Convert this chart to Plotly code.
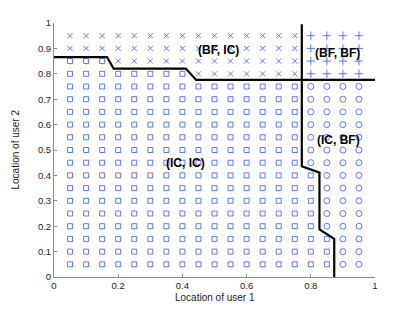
import plotly.graph_objects as go

x_grid = [0.05, 0.10, 0.15, 0.20, 0.25, 0.30, 0.35, 0.40, 0.45, 0.50,
          0.55, 0.60, 0.65, 0.70, 0.75, 0.80, 0.85, 0.90, 0.95]
y_grid = [0.95, 0.90, 0.85, 0.80, 0.75, 0.70, 0.65, 0.60, 0.55, 0.50,
          0.45, 0.40, 0.35, 0.30, 0.25, 0.20, 0.15, 0.10, 0.05]
# X=(BF, IC), P=(BF, BF), S=(IC, IC), O=(IC, BF)
region_rows = [
    "XXXXXXXXXXXXXXXPPPP",
    "XXXXXXXXXXXXXXXPPPP",
    "SSSXXXXXXXXXXXXPPPP",
    "SSSSSSSSXXXXXXXPPPP",
    "SSSSSSSSSSSSSSSOOOO",
    "SSSSSSSSSSSSSSSOOOO",
    "SSSSSSSSSSSSSSSOOOO",
    "SSSSSSSSSSSSSSSOOOO",
    "SSSSSSSSSSSSSSSOOOO",
    "SSSSSSSSSSSSSSSOOOO",
    "SSSSSSSSSSSSSSSOOOO",
    "SSSSSSSSSSSSSSSSOOO",
    "SSSSSSSSSSSSSSSSOOO",
    "SSSSSSSSSSSSSSSSOOO",
    "SSSSSSSSSSSSSSSSOOO",
    "SSSSSSSSSSSSSSSSOOO",
    "SSSSSSSSSSSSSSSSSOO",
    "SSSSSSSSSSSSSSSSSOO",
    "SSSSSSSSSSSSSSSSSOO",
]
boundary1_x = [0.0, 0.165, 0.186, 0.411, 0.443, 1.0]
boundary1_y = [0.866, 0.866, 0.820, 0.820, 0.776, 0.776]
boundary2_x = [0.772, 0.772, 0.827, 0.827, 0.873, 0.873]
boundary2_y = [0.995, 0.436, 0.411, 0.187, 0.150, 0.0]
labels = ["(BF, IC)", "(BF, BF)", "(IC, BF)", "(IC, IC)"]
label_x = [0.511, 0.882, 0.885, 0.410]
label_y = [0.893, 0.882, 0.541, 0.449]

styles = {
    "X": dict(symbol="x-thin-open", size=5),
    "P": dict(symbol="cross-thin-open", size=6),
    "S": dict(symbol="square-open", size=5),
    "O": dict(symbol="circle-open", size=6),
}
blue = "#4a68ff"
font_family = "Liberation Sans, Arial"

fig = go.Figure()
for code, st in styles.items():
    xs, ys = [], []
    for yi, row in zip(y_grid, region_rows):
        for xi, c in zip(x_grid, row):
            if c == code:
                xs.append(xi)
                ys.append(yi)
    fig.add_trace(go.Scatter(x=xs, y=ys, mode="markers",
                             marker=dict(symbol=st["symbol"], size=st["size"],
                                         color=blue, line=dict(color=blue, width=0.9)),
                             showlegend=False, hoverinfo="skip"))

for bx, by in [(boundary1_x, boundary1_y), (boundary2_x, boundary2_y)]:
    fig.add_trace(go.Scatter(x=bx, y=by, mode="lines",
                             line=dict(color="black", width=2.2),
                             showlegend=False, hoverinfo="skip"))

for t, lx, ly in zip(labels, label_x, label_y):
    fig.add_annotation(x=lx, y=ly, text="<b>" + t + "</b>", showarrow=False,
                       font=dict(family=font_family, size=12, color="black"))

fig.add_annotation(x=0.5, y=-0.08, xref="paper", yref="paper", yanchor="middle",
                   text="Location of user 1", showarrow=False,
                   font=dict(family=font_family, size=10, color="#222"))
fig.add_annotation(x=-0.123, y=0.5, xref="paper", yref="paper", xanchor="center",
                   text="Location of user 2", showarrow=False, textangle=-90,
                   font=dict(family=font_family, size=10, color="#222"))

axis_common = dict(showgrid=False, zeroline=False, showline=True, linecolor="#8c8c8c",
                   linewidth=1, ticks="inside", ticklen=3, tickcolor="#8c8c8c",
                   automargin=False,
                   tickfont=dict(family=font_family, size=9.5, color="#222"))

fig.update_layout(
    width=415, height=312,
    margin=dict(l=45.5, r=48, t=14.5, b=43.3),
    plot_bgcolor="white", paper_bgcolor="white",
    xaxis=dict(range=[0, 1], tickvals=[0, 0.2, 0.4, 0.6, 0.8, 1],
               ticktext=["0", "0.2", "0.4", "0.6", "0.8", "1"],
               **axis_common),
    yaxis=dict(range=[0, 1], tickvals=[0, 0.1, 0.2, 0.3, 0.4, 0.5, 0.6, 0.7, 0.8, 0.9, 1],
               ticktext=["0", "0.1", "0.2", "0.3", "0.4", "0.5", "0.6", "0.7", "0.8", "0.9", "1"],
               **axis_common),
)

fig.write_html("out.html")
